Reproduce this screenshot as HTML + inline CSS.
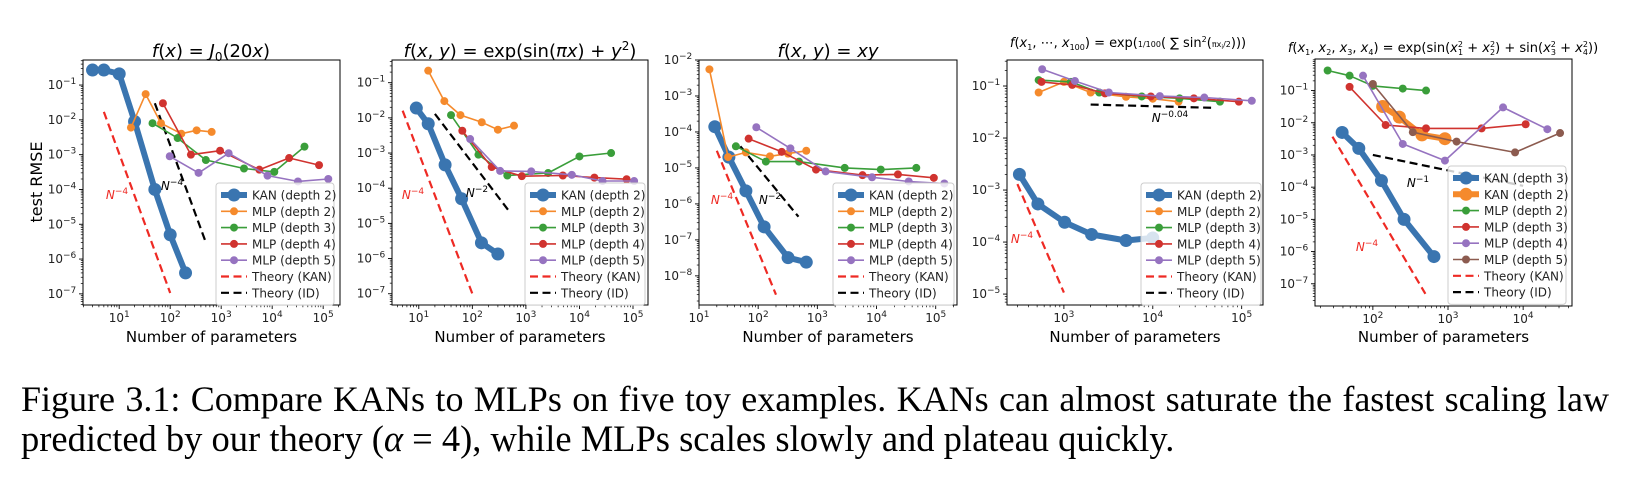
<!DOCTYPE html>
<html><head><meta charset="utf-8"><style>
html,body{margin:0;padding:0;background:#fff;width:1630px;height:480px;overflow:hidden}
svg{display:block}
.cap{position:absolute;left:21px;width:1588px;font-family:"Liberation Serif",serif;font-size:36px;line-height:40px;color:#000;white-space:nowrap}
.l1{top:379px;text-align:justify;text-align-last:justify;white-space:normal}
.l2{top:419px;font-size:36.5px}
</style></head><body>
<svg id="fig" width="1630" height="360" viewBox="0 0 1630 360" xmlns="http://www.w3.org/2000/svg" font-family="DejaVu Sans, sans-serif"></svg>
<div class="cap l1">Figure 3.1: Compare KANs to MLPs on five toy examples. KANs can almost saturate the fastest scaling law</div>
<div class="cap l2">predicted by our theory (<i>α</i> = 4), while MLPs scales slowly and plateau quickly.</div>
<script>
// ---------- Panel 1 data ----------
const p1_kan_x=[3,5,10,20,50,100,200];
const p1_kan_y=[0.27,0.27,0.21,0.009,1e-4,5e-6,4e-7];
const p1_m2_x=[17,33,66,165,330,650];
const p1_m2_y=[0.006,0.055,0.008,0.004,0.005,0.0045];
const p1_m3_x=[45,140,500,2800,11000,43000];
const p1_m3_y=[0.008,0.003,0.0007,0.0004,0.00032,0.0017];
const p1_m4_x=[72,255,950,5600,21500,83000];
const p1_m4_y=[0.03,0.001,0.0013,0.00037,0.0008,0.0005];
const p1_m5_x=[98,360,1400,8100,32000,126000];
const p1_m5_y=[0.0009,0.0003,0.0011,0.00025,0.00017,0.0002];
const p1_tk_x=[5,100]; const p1_tk_y=[0.017,1.06e-7];
const p1_ti_x=[50,500]; const p1_ti_y=[0.03,3e-6];
// ---------- Panel 2 data ----------
const p2_kan_x=[9,15,31,63,148,300];
const p2_kan_y=[0.019,0.0068,0.00046,5e-5,2.8e-6,1.35e-6];
const p2_m2_x=[15,30,60,150,300,600];
const p2_m2_y=[0.22,0.03,0.012,0.0075,0.0046,0.006];
const p2_m3_x=[40,130,450,2600,10000,39000];
const p2_m3_y=[0.012,0.0009,0.00023,0.00027,0.0008,0.001];
const p2_m4_x=[65,230,840,4900,19000,76000];
const p2_m4_y=[0.0043,0.0004,0.00022,0.00023,0.0002,0.00018];
const p2_m5_x=[91,330,1260,7200,27000,105000];
const p2_m5_y=[0.0025,0.00031,0.0003,0.00024,0.00016,0.00016];
const p2_tk_x=[5,100]; const p2_tk_y=[0.016,1e-7];
const p2_ti_x=[20,500]; const p2_ti_y=[0.013,2.1e-5];
// ---------- Panel 3 data ----------
const p3_kan_x=[18.5,32,62,126,320,650];
const p3_kan_y=[1.4e-4,2e-5,2.3e-6,2.3e-7,3.2e-8,2.4e-8];
const p3_m2_x=[15,31,62,158,320,650];
const p3_m2_y=[0.0055,2e-5,2.7e-5,2.1e-5,2.5e-5,3e-5];
const p3_m3_x=[42,135,490,2900,11800,47000];
const p3_m3_y=[4e-5,1.5e-5,1.5e-5,1e-5,9e-6,1e-5];
const p3_m4_x=[69,250,950,5800,23000,93000];
const p3_m4_y=[6.5e-5,2.8e-5,9e-6,6.3e-6,6.6e-6,5.3e-6];
const p3_m5_x=[93,350,1380,8400,35000,140000];
const p3_m5_y=[1.35e-4,3.5e-5,8e-6,5.5e-6,4.2e-6,3.7e-6];
const p3_tk_x=[20,200]; const p3_tk_y=[3e-5,3e-9];
const p3_ti_x=[50,480]; const p3_ti_y=[4e-5,4.4e-7];
// ---------- Panel 4 data ----------
const p4_kan_x=[316,510,1020,2050,5000,10000];
const p4_kan_y=[0.002,5.4e-4,2.4e-4,1.4e-4,1.07e-4,1.2e-4];
const p4_m2_x=[520,1000,2000,5000,10000,19500];
const p4_m2_y=[0.075,0.12,0.075,0.062,0.057,0.05];
const p4_m3_x=[520,1200,2500,7500,20000,57000];
const p4_m3_y=[0.13,0.12,0.075,0.063,0.058,0.05];
const p4_m4_x=[560,1240,2900,9500,29000,93000];
const p4_m4_y=[0.12,0.105,0.072,0.063,0.058,0.05];
const p4_m5_x=[570,1330,3200,12000,38000,130000];
const p4_m5_y=[0.21,0.125,0.075,0.064,0.06,0.052];
const p4_tk_x=[300,1000]; const p4_tk_y=[0.0013,1.07e-5];
const p4_ti_x=[2000,50000]; const p4_ti_y=[0.044,0.038];
// ---------- Panel 5 data ----------
const p5_k3_x=[39,65,130,260,650];
const p5_k3_y=[0.005,0.0016,1.6e-4,1e-5,7e-7];
const p5_k2_x=[135,225,450,910];
const p5_k2_y=[0.032,0.015,0.0042,0.0032];
const p5_m2_x=[25,49,100,250,510];
const p5_m2_y=[0.42,0.29,0.14,0.115,0.1];
const p5_m3_x=[49,148,510,2800,10800];
const p5_m3_y=[0.13,0.0085,0.0067,0.0067,0.009];
const p5_m4_x=[74,250,910,5400,21000];
const p5_m4_y=[0.29,0.0022,6.7e-4,0.03,0.0063];
const p5_m5_x=[100,340,1300,7800,31000];
const p5_m5_y=[0.16,0.0051,0.0026,0.0012,0.0048];
const p5_tk_x=[29,500]; const p5_tk_y=[0.0037,4.9e-8];
const p5_ti_x=[100,10000]; const p5_ti_y=[0.001,1.1e-4];

const C={blue:'#3a75b0',orange:'#f58a2c',green:'#3a9e3a',red:'#d0332f',purple:'#9673c0',brown:'#8c5b4f',kred:'#ee2a24'};
const NS='http://www.w3.org/2000/svg';
const svg=document.getElementById('fig');
function el(tag,attrs,parent){const e=document.createElementNS(NS,tag);for(const k in attrs)e.setAttribute(k,attrs[k]);(parent||svg).appendChild(e);return e;}
function powLabel(g,x,y,exp,anchor){
  const t=el('text',{x:x,y:y,'font-size':12,fill:'#222','text-anchor':anchor},g);
  
  
  const a=el('tspan',{},t);a.textContent='10';
  const b=el('tspan',{dy:-5,'font-size':9},t);b.textContent=(exp<0?'\u2212':'')+Math.abs(exp);
}
function panel(cfg){
  const g=el('g',{});
  
  
  const L=cfg.box[0],T=cfg.box[1],R=cfg.box[2],B=cfg.box[3];
  const X=v=>L+(Math.log10(v)-cfg.xr[0])/(cfg.xr[1]-cfg.xr[0])*(R-L);
  const Y=v=>T+(cfg.yr[1]-Math.log10(v))/(cfg.yr[1]-cfg.yr[0])*(B-T);
  const cl='clip'+cfg.name;
  const cp=el('clipPath',{id:cl},g);el('rect',{x:L,y:T,width:R-L,height:B-T},cp);
  for(let d=Math.floor(cfg.xr[0]);d<=Math.ceil(cfg.xr[1]);d++){
    for(let m=1;m<10;m++){const v=m*Math.pow(10,d);const lv=Math.log10(v);if(lv<cfg.xr[0]-1e-9||lv>cfg.xr[1]+1e-9)continue;const px=X(v);
      el('line',{x1:px,x2:px,y1:B,y2:B+(m==1?4:2.2),stroke:'#000','stroke-width':m==1?0.9:0.7},g);
      if(m==1)powLabel(g,px,B+17,d,'middle');}
  }
  for(let d=Math.floor(cfg.yr[0]);d<=Math.ceil(cfg.yr[1]);d++){
    for(let m=1;m<10;m++){const v=m*Math.pow(10,d);const lv=Math.log10(v);if(lv<cfg.yr[0]-1e-9||lv>cfg.yr[1]+1e-9)continue;const py=Y(v);
      el('line',{x1:L,x2:L-(m==1?4:2.2),y1:py,y2:py,stroke:'#000','stroke-width':m==1?0.9:0.7},g);
      if(m==1)powLabel(g,L-21,py+4,d,'middle');}
  }
  const pg=el('g',{'clip-path':'url(#'+cl+')'},g);
  cfg.theory.forEach(th=>{
    const ln=el('line',{x1:X(th.x[0]),y1:Y(th.y[0]),x2:X(th.x[1]),y2:Y(th.y[1]),stroke:th.c,'stroke-width':2.2,'stroke-dasharray':'8,4.5'},pg);
    
    
  });
  cfg.series.forEach(s=>{
    const sg=el('g',{},pg);
    
    
    const pts=s.x.map((v,i)=>X(v).toFixed(1)+','+Y(s.y[i]).toFixed(1)).join(' ');
    el('polyline',{points:pts,fill:'none',stroke:s.c,'stroke-width':s.w,'stroke-linejoin':'round'},sg);
    s.x.forEach((v,i)=>{const c=el('circle',{cx:X(v),cy:Y(s.y[i]),r:s.r,fill:s.c},sg);
      
      });
  });
  cfg.ann.forEach(a=>{
    const t=el('text',{x:a.x,y:a.y,'font-size':12,fill:a.c,'font-style':'italic','text-anchor':'middle'},g);
    
    
    const s1=el('tspan',{},t);s1.textContent='N';
    const s2=el('tspan',{dy:-5,'font-size':9,'font-style':'normal'},t);s2.textContent=a.e;
  });
  el('rect',{x:L,y:T,width:R-L,height:B-T,fill:'none',stroke:'#000','stroke-width':1},g);
  const lg=el('g',{},g);
  
  
  const lx=cfg.leg[0],ly=cfg.leg[1],lw=cfg.leg[2];
  const items=cfg.series.map(s=>({t:s.label,c:s.c,w:s.w,r:s.r,dash:false})).concat([{t:'Theory (KAN)',c:C.kred,w:2.2,dash:true},{t:'Theory (ID)',c:'#000',w:2.2,dash:true}]);
  const lh=items.length*16.3+8;
  el('rect',{x:lx,y:ly,width:lw,height:lh,rx:3,fill:'#fff','fill-opacity':0.8,stroke:'#ccc','stroke-width':1},lg);
  items.forEach((it,i)=>{
    const cy=ly+12+i*16.3;
    const eg=el('g',{},lg);
    
    
    el('line',{x1:lx+5,x2:lx+31,y1:cy,y2:cy,stroke:it.c,'stroke-width':it.w,'stroke-dasharray':it.dash?'8,4.5':'none'},eg);
    if(!it.dash)el('circle',{cx:lx+18,cy:cy,r:it.r,fill:it.c},eg);
    const t=el('text',{x:lx+36,y:cy+4.5,'font-size':12,fill:'#222'},eg);t.textContent=it.t;
  });
  const tt=el('text',{x:cfg.title.x,y:cfg.title.y,'font-size':cfg.title.fs,fill:'#000','text-anchor':'middle'},g);
  
  
  tt.innerHTML=cfg.title.html;
  const xl=el('text',{x:(L+R)/2,y:342,'font-size':15,fill:'#000','text-anchor':'middle'},g);
  
  
  xl.textContent='Number of parameters';
}
const S=(n,x,y,c,label,kan)=>({n:n,x:x,y:y,c:c,label:label,w:kan?6:1.6,r:kan?6.5:4});
const TH=(x,y,c,n)=>({x:x,y:y,c:c,n:n});
panel({name:'panel-bessel',box:[83,60,340,305],xr:[0.29,5.33],yr:[-7.32,-0.28],
 series:[S('kan-depth2',p1_kan_x,p1_kan_y,C.blue,'KAN (depth 2)',1),S('mlp-depth2',p1_m2_x,p1_m2_y,C.orange,'MLP (depth 2)'),S('mlp-depth3',p1_m3_x,p1_m3_y,C.green,'MLP (depth 3)'),S('mlp-depth4',p1_m4_x,p1_m4_y,C.red,'MLP (depth 4)'),S('mlp-depth5',p1_m5_x,p1_m5_y,C.purple,'MLP (depth 5)')],
 theory:[TH(p1_tk_x,p1_tk_y,C.kred,'theory-kan'),TH(p1_ti_x,p1_ti_y,'#000','theory-id')],
 ann:[{x:117,y:199,c:C.kred,e:'\u22124'},{x:172,y:190,c:'#000',e:'\u22124'}],
 leg:[216,183,118],title:{x:211,y:57,fs:18,html:'<tspan font-style="italic">f</tspan>(<tspan font-style="italic">x</tspan>) = <tspan font-style="italic">J</tspan><tspan font-size="12" dy="4">0</tspan><tspan dy="-4">(20</tspan><tspan font-style="italic">x</tspan>)'}});
panel({name:'panel-exp-sin',box:[392,60,648,305],xr:[0.5,5.28],yr:[-7.32,-0.355],
 series:[S('kan-depth2',p2_kan_x,p2_kan_y,C.blue,'KAN (depth 2)',1),S('mlp-depth2',p2_m2_x,p2_m2_y,C.orange,'MLP (depth 2)'),S('mlp-depth3',p2_m3_x,p2_m3_y,C.green,'MLP (depth 3)'),S('mlp-depth4',p2_m4_x,p2_m4_y,C.red,'MLP (depth 4)'),S('mlp-depth5',p2_m5_x,p2_m5_y,C.purple,'MLP (depth 5)')],
 theory:[TH(p2_tk_x,p2_tk_y,C.kred,'theory-kan'),TH(p2_ti_x,p2_ti_y,'#000','theory-id')],
 ann:[{x:413,y:199,c:C.kred,e:'\u22124'},{x:477,y:197,c:'#000',e:'\u22122'}],
 leg:[525,183,120],title:{x:520,y:57,fs:18,html:'<tspan font-style="italic">f</tspan>(<tspan font-style="italic">x</tspan>, <tspan font-style="italic">y</tspan>) = exp(sin(<tspan font-style="italic">πx</tspan>) + <tspan font-style="italic">y</tspan><tspan font-size="12" dy="-7">2</tspan><tspan dy="7">)</tspan>'}});
panel({name:'panel-xy',box:[699,60,957,305],xr:[1,5.36],yr:[-8.81,-2],
 series:[S('kan-depth2',p3_kan_x,p3_kan_y,C.blue,'KAN (depth 2)',1),S('mlp-depth2',p3_m2_x,p3_m2_y,C.orange,'MLP (depth 2)'),S('mlp-depth3',p3_m3_x,p3_m3_y,C.green,'MLP (depth 3)'),S('mlp-depth4',p3_m4_x,p3_m4_y,C.red,'MLP (depth 4)'),S('mlp-depth5',p3_m5_x,p3_m5_y,C.purple,'MLP (depth 5)')],
 theory:[TH(p3_tk_x,p3_tk_y,C.kred,'theory-kan'),TH(p3_ti_x,p3_ti_y,'#000','theory-id')],
 ann:[{x:722,y:204,c:C.kred,e:'\u22124'},{x:770,y:204,c:'#000',e:'\u22122'}],
 leg:[833,183,121],title:{x:828,y:57,fs:18,html:'<tspan font-style="italic">f</tspan>(<tspan font-style="italic">x</tspan>, <tspan font-style="italic">y</tspan>) = <tspan font-style="italic">xy</tspan>'}});
panel({name:'panel-exp-100d',box:[1007,60,1263,305],xr:[2.36,5.24],yr:[-5.21,-0.5],
 series:[S('kan-depth2',p4_kan_x,p4_kan_y,C.blue,'KAN (depth 2)',1),S('mlp-depth2',p4_m2_x,p4_m2_y,C.orange,'MLP (depth 2)'),S('mlp-depth3',p4_m3_x,p4_m3_y,C.green,'MLP (depth 3)'),S('mlp-depth4',p4_m4_x,p4_m4_y,C.red,'MLP (depth 4)'),S('mlp-depth5',p4_m5_x,p4_m5_y,C.purple,'MLP (depth 5)')],
 theory:[TH(p4_tk_x,p4_tk_y,C.kred,'theory-kan'),TH(p4_ti_x,p4_ti_y,'#000','theory-id')],
 ann:[{x:1022,y:243,c:C.kred,e:'\u22124'},{x:1170,y:122,c:'#000',e:'\u22120.04'}],
 leg:[1141,183,120],title:{x:1128,y:47,fs:13,html:'<tspan font-style="italic">f</tspan>(<tspan font-style="italic">x</tspan><tspan font-size="8" dy="3">1</tspan><tspan dy="-3">, ⋯, </tspan><tspan font-style="italic">x</tspan><tspan font-size="8" dy="3">100</tspan><tspan dy="-3">) = exp(</tspan><tspan font-size="8">1/100</tspan>( ∑ sin<tspan font-size="8" dy="-5">2</tspan><tspan dy="5">(</tspan><tspan font-size="8">πx</tspan><tspan font-size="6" dy="2">i</tspan><tspan font-size="8" dy="-2">/2</tspan>)))'}});
panel({name:'panel-exp-4d',box:[1315,59,1572,306],xr:[1.23,4.65],yr:[-7.69,-0.02],
 series:[S('kan-depth3',p5_k3_x,p5_k3_y,C.blue,'KAN (depth 3)',1),S('kan-depth2',p5_k2_x,p5_k2_y,C.orange,'KAN (depth 2)',1),S('mlp-depth2',p5_m2_x,p5_m2_y,C.green,'MLP (depth 2)'),S('mlp-depth3',p5_m3_x,p5_m3_y,C.red,'MLP (depth 3)'),S('mlp-depth4',p5_m4_x,p5_m4_y,C.purple,'MLP (depth 4)'),S('mlp-depth5',p5_m5_x,p5_m5_y,C.brown,'MLP (depth 5)')],
 theory:[TH(p5_tk_x,p5_tk_y,C.kred,'theory-kan'),TH(p5_ti_x,p5_ti_y,'#000','theory-id')],
 ann:[{x:1418,y:187,c:'#000',e:'\u22121'},{x:1367,y:251,c:C.kred,e:'\u22124'}],
 leg:[1448,166,118],title:{x:1443,y:52,fs:13,html:'<tspan font-style="italic">f</tspan>(<tspan font-style="italic">x</tspan><tspan font-size="8" dy="3">1</tspan><tspan dy="-3">, </tspan><tspan font-style="italic">x</tspan><tspan font-size="8" dy="3">2</tspan><tspan dy="-3">, </tspan><tspan font-style="italic">x</tspan><tspan font-size="8" dy="3">3</tspan><tspan dy="-3">, </tspan><tspan font-style="italic">x</tspan><tspan font-size="8" dy="3">4</tspan><tspan dy="-3">) = exp(sin(</tspan><tspan font-style="italic">x</tspan><tspan font-size="8" dy="-5">2</tspan><tspan font-size="8" dx="-5" dy="8">1</tspan><tspan dy="-3"> + </tspan><tspan font-style="italic">x</tspan><tspan font-size="8" dy="-5">2</tspan><tspan font-size="8" dx="-5" dy="8">2</tspan><tspan dy="-3">) + sin(</tspan><tspan font-style="italic">x</tspan><tspan font-size="8" dy="-5">2</tspan><tspan font-size="8" dx="-5" dy="8">3</tspan><tspan dy="-3"> + </tspan><tspan font-style="italic">x</tspan><tspan font-size="8" dy="-5">2</tspan><tspan font-size="8" dx="-5" dy="8">4</tspan><tspan dy="-3">))</tspan>'}});
const yl=el('text',{x:0,y:0,'font-size':16,fill:'#000','text-anchor':'middle',transform:'translate(42,182) rotate(-90)'});


yl.textContent='test RMSE';
</script>
</body></html>
